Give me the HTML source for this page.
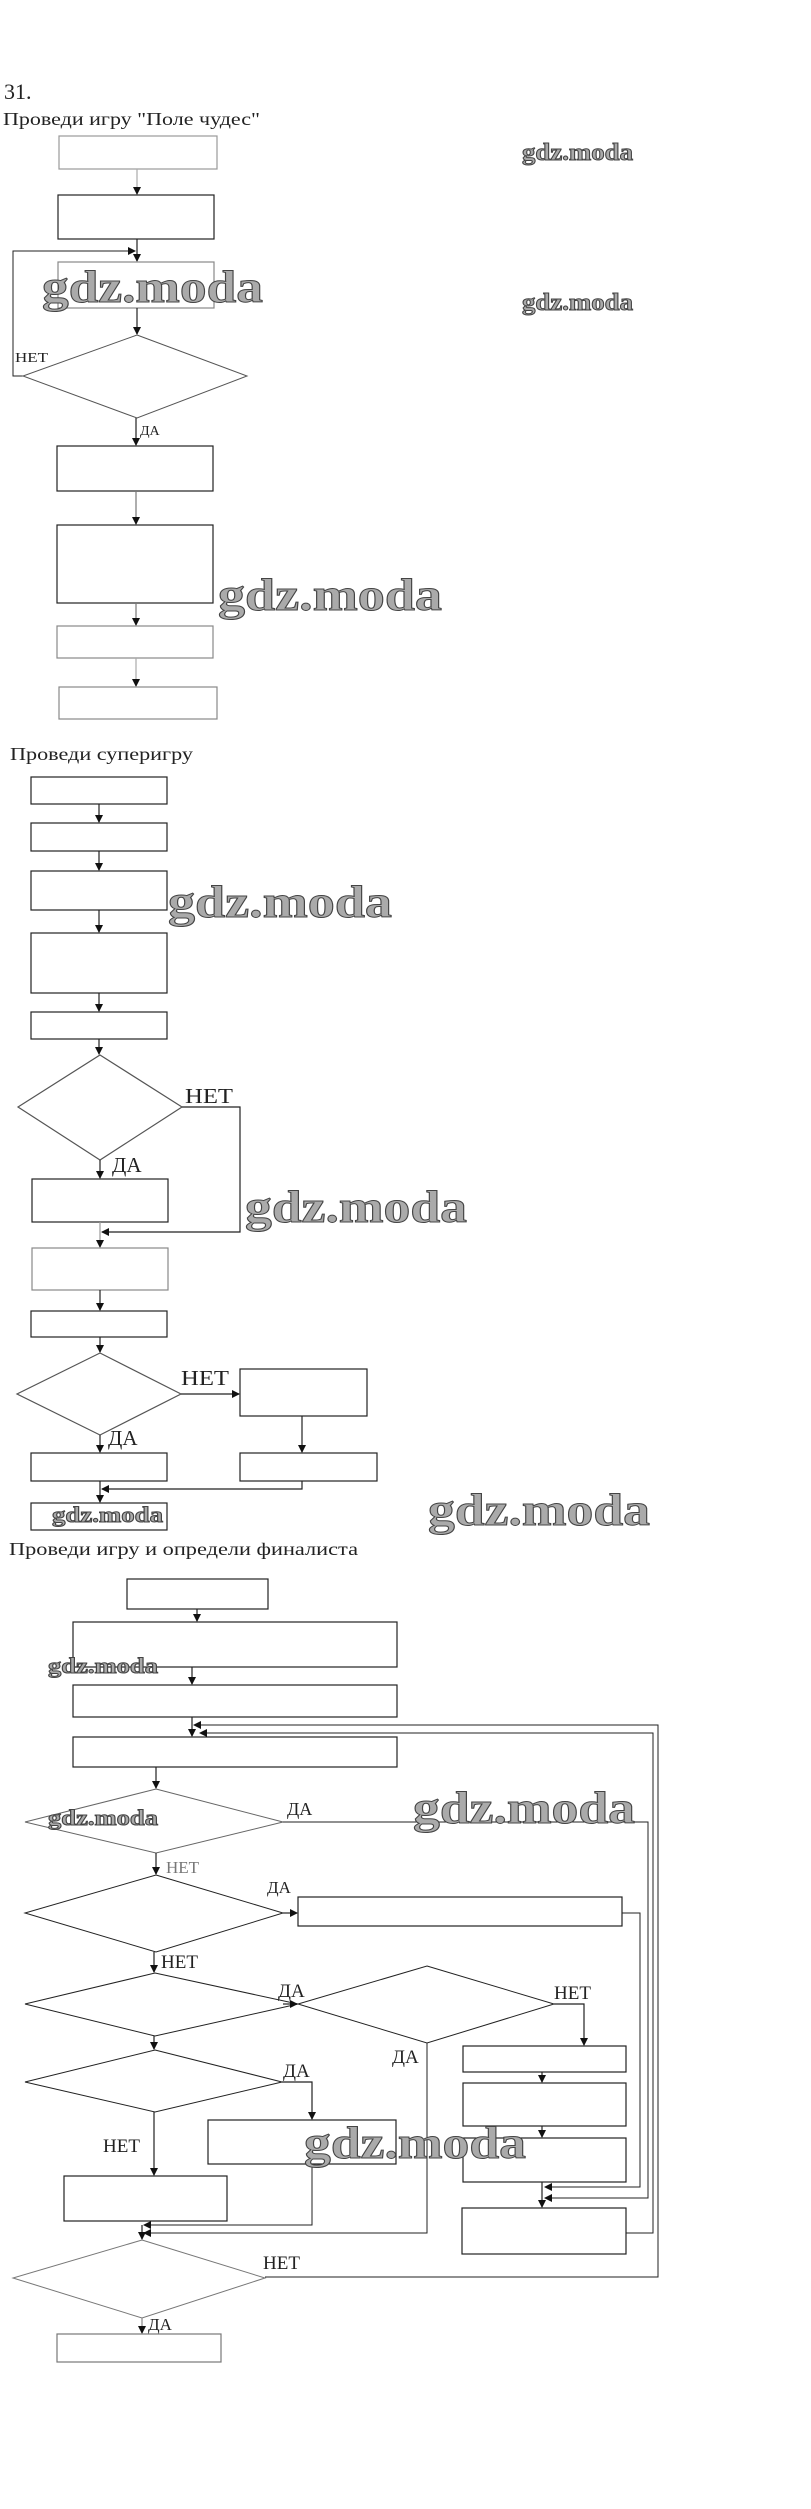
<!DOCTYPE html>
<html><head><meta charset="utf-8"><style>
html,body{margin:0;padding:0;background:#fff;width:811px;height:2509px;overflow:hidden}
svg{display:block}
.t{font-family:"Liberation Serif",serif;fill:#222}
.w{font-family:"Liberation Serif",serif;font-weight:bold;fill:#aaa;stroke:#444;stroke-width:1}
</style></head><body>
<svg width="811" height="2509" viewBox="0 0 811 2509" xmlns="http://www.w3.org/2000/svg">
<defs><marker id="a" markerWidth="8" markerHeight="8" refX="7" refY="4" orient="auto" markerUnits="userSpaceOnUse"><path d="M0,0 L8,4 L0,8 z" fill="#111"/></marker></defs>
<g fill="none" stroke="#222" stroke-width="1.2">
<!-- Section 1 -->
<rect x="59" y="136" width="158" height="33" stroke="#999"/>
<line x1="137" y1="169" x2="137" y2="194" marker-end="url(#a)" stroke="#aaa"/>
<rect x="58" y="195" width="156" height="44"/>
<line x1="137" y1="239" x2="137" y2="261" marker-end="url(#a)"/>
<polyline points="23,376 13,376 13,251 135,251" marker-end="url(#a)" stroke-width="1"/>
<rect x="58" y="262" width="156" height="46" stroke="#888"/>
<line x1="137" y1="308" x2="137" y2="334" marker-end="url(#a)"/>
<polygon points="137,335 247,376 137,418 23,376" stroke="#555" stroke-width="1"/>
<line x1="136" y1="418" x2="136" y2="445" marker-end="url(#a)"/>
<rect x="57" y="446" width="156" height="45"/>
<line x1="136" y1="491" x2="136" y2="524" marker-end="url(#a)" stroke="#777"/>
<rect x="57" y="525" width="156" height="78"/>
<line x1="136" y1="603" x2="136" y2="625" marker-end="url(#a)" stroke="#777"/>
<rect x="57" y="626" width="156" height="32" stroke="#888"/>
<line x1="136" y1="658" x2="136" y2="686" marker-end="url(#a)" stroke="#aaa"/>
<rect x="59" y="687" width="158" height="32" stroke="#888"/>
<!-- Section 2 -->
<rect x="31" y="777" width="136" height="27"/>
<line x1="99" y1="804" x2="99" y2="822" marker-end="url(#a)"/>
<rect x="31" y="823" width="136" height="28"/>
<line x1="99" y1="851" x2="99" y2="870" marker-end="url(#a)"/>
<rect x="31" y="871" width="136" height="39"/>
<line x1="99" y1="910" x2="99" y2="932" marker-end="url(#a)"/>
<rect x="31" y="933" width="136" height="60"/>
<line x1="99" y1="993" x2="99" y2="1011" marker-end="url(#a)"/>
<rect x="31" y="1012" width="136" height="27"/>
<line x1="99" y1="1039" x2="99" y2="1054" marker-end="url(#a)"/>
<polygon points="100,1055 182,1107 100,1160 18,1107" stroke="#555"/>
<polyline points="182,1107 240,1107 240,1232 102,1232" marker-end="url(#a)"/>
<line x1="100" y1="1160" x2="100" y2="1178" marker-end="url(#a)"/>
<rect x="32" y="1179" width="136" height="43"/>
<line x1="100" y1="1222" x2="100" y2="1247" marker-end="url(#a)" stroke="#999"/>
<rect x="32" y="1248" width="136" height="42" stroke="#888"/>
<line x1="100" y1="1290" x2="100" y2="1310" marker-end="url(#a)"/>
<rect x="31" y="1311" width="136" height="26"/>
<line x1="100" y1="1337" x2="100" y2="1352" marker-end="url(#a)"/>
<polygon points="100,1353 181,1394 100,1435 17,1394" stroke="#555"/>
<line x1="181" y1="1394" x2="239" y2="1394" marker-end="url(#a)"/>
<rect x="240" y="1369" width="127" height="47"/>
<line x1="302" y1="1416" x2="302" y2="1452" marker-end="url(#a)"/>
<rect x="240" y="1453" width="137" height="28"/>
<line x1="100" y1="1435" x2="100" y2="1452" marker-end="url(#a)"/>
<rect x="31" y="1453" width="136" height="28"/>
<polyline points="302,1481 302,1489 102,1489" marker-end="url(#a)"/>
<line x1="100" y1="1481" x2="100" y2="1502" marker-end="url(#a)"/>
<rect x="31" y="1503" width="136" height="27"/>
<!-- Section 3 -->
<rect x="127" y="1579" width="141" height="30"/>
<line x1="197" y1="1609" x2="197" y2="1621" marker-end="url(#a)"/>
<rect x="73" y="1622" width="324" height="45"/>
<line x1="192" y1="1667" x2="192" y2="1684" marker-end="url(#a)"/>
<rect x="73" y="1685" width="324" height="32"/>
<line x1="192" y1="1717" x2="192" y2="1736" marker-end="url(#a)"/>
<rect x="73" y="1737" width="324" height="30"/>
<polyline points="265,2277 658,2277 658,1725 194,1725" marker-end="url(#a)" stroke-width="1"/>
<polyline points="626,2233 653,2233 653,1733 200,1733" marker-end="url(#a)" stroke-width="1"/>
<line x1="156" y1="1767" x2="156" y2="1788" marker-end="url(#a)"/>
<polygon points="156,1789 283,1822 156,1853 25,1822" stroke="#666" stroke-width="1"/>
<polyline points="283,1822 648,1822 648,2198 545,2198" marker-end="url(#a)" stroke-width="1"/>
<line x1="156" y1="1853" x2="156" y2="1874" marker-end="url(#a)"/>
<polygon points="156,1875 283,1913 156,1952 25,1913" stroke-width="1"/>
<line x1="283" y1="1913" x2="297" y2="1913" marker-end="url(#a)"/>
<rect x="298" y="1897" width="324" height="29"/>
<polyline points="622,1913 640,1913 640,2187 545,2187" marker-end="url(#a)" stroke-width="1"/>
<line x1="154" y1="1952" x2="154" y2="1972" marker-end="url(#a)"/>
<polygon points="155,1973 298,2004 155,2036 25,2004" stroke-width="1"/>
<line x1="283" y1="2004" x2="297" y2="2004" marker-end="url(#a)"/>
<polygon points="427,1966 554,2004 427,2043 298,2004" stroke-width="1"/>
<polyline points="554,2004 584,2004 584,2045" marker-end="url(#a)"/>
<polyline points="427,2043 427,2233 144,2233" marker-end="url(#a)" stroke-width="1"/>
<rect x="463" y="2046" width="163" height="26"/>
<line x1="542" y1="2072" x2="542" y2="2082" marker-end="url(#a)"/>
<rect x="463" y="2083" width="163" height="43"/>
<line x1="542" y1="2126" x2="542" y2="2137" marker-end="url(#a)"/>
<rect x="463" y="2138" width="163" height="44"/>
<line x1="542" y1="2182" x2="542" y2="2207" marker-end="url(#a)"/>
<rect x="462" y="2208" width="164" height="46"/>
<line x1="154" y1="2036" x2="154" y2="2049" marker-end="url(#a)"/>
<polygon points="155,2050 282,2082 155,2112 25,2082" stroke-width="1"/>
<polyline points="282,2082 312,2082 312,2119" marker-end="url(#a)"/>
<rect x="208" y="2120" width="188" height="44"/>
<polyline points="312,2164 312,2225 144,2225" marker-end="url(#a)" stroke-width="1"/>
<line x1="154" y1="2112" x2="154" y2="2175" marker-end="url(#a)"/>
<rect x="64" y="2176" width="163" height="45"/>
<line x1="142" y1="2225" x2="142" y2="2239" marker-end="url(#a)"/>
<polygon points="142,2240 265,2278 142,2318 13,2278" stroke="#777" stroke-width="1"/>
<line x1="142" y1="2318" x2="142" y2="2333" marker-end="url(#a)" stroke="#888"/>
<rect x="57" y="2334" width="164" height="28" stroke="#777"/>
</g>
<g class="t">
<text x="4" y="99" font-size="22">31.</text>
<text x="3" y="125" font-size="18" textLength="257" lengthAdjust="spacingAndGlyphs">Проведи игру "Поле чудес"</text>
<text x="15" y="362" font-size="14" textLength="33" lengthAdjust="spacingAndGlyphs">НЕТ</text>
<text x="140" y="435" font-size="14">ДА</text>
<text x="10" y="760" font-size="18" textLength="183" lengthAdjust="spacingAndGlyphs">Проведи суперигру</text>
<text x="185" y="1103" font-size="21" textLength="48" lengthAdjust="spacingAndGlyphs">НЕТ</text>
<text x="112" y="1172" font-size="21">ДА</text>
<text x="181" y="1385" font-size="21" textLength="48" lengthAdjust="spacingAndGlyphs">НЕТ</text>
<text x="108" y="1445" font-size="21">ДА</text>
<text x="9" y="1555" font-size="18" textLength="349" lengthAdjust="spacingAndGlyphs">Проведи игру и определи финалиста</text>
<text x="287" y="1815" font-size="18">ДА</text>
<text x="166" y="1873" font-size="17" fill="#777">НЕТ</text>
<text x="267" y="1893" font-size="17">ДА</text>
<text x="161" y="1968" font-size="19">НЕТ</text>
<text x="278" y="1997" font-size="19">ДА</text>
<text x="554" y="1999" font-size="19">НЕТ</text>
<text x="392" y="2063" font-size="19">ДА</text>
<text x="283" y="2077" font-size="19">ДА</text>
<text x="103" y="2152" font-size="19">НЕТ</text>
<text x="263" y="2269" font-size="19">НЕТ</text>
<text x="148" y="2330" font-size="17">ДА</text>
</g>
<g class="w">
<text x="522" y="160" font-size="24" textLength="111" lengthAdjust="spacingAndGlyphs">gdz.moda</text>
<text x="522" y="310" font-size="24" textLength="111" lengthAdjust="spacingAndGlyphs">gdz.moda</text>
<text x="42" y="302" font-size="46" textLength="221" lengthAdjust="spacingAndGlyphs">gdz.moda</text>
<text x="218" y="610" font-size="46" textLength="224" lengthAdjust="spacingAndGlyphs">gdz.moda</text>
<text x="168" y="917" font-size="46" textLength="224" lengthAdjust="spacingAndGlyphs">gdz.moda</text>
<text x="245" y="1222" font-size="46" textLength="222" lengthAdjust="spacingAndGlyphs">gdz.moda</text>
<text x="52" y="1522" font-size="22" textLength="111" lengthAdjust="spacingAndGlyphs">gdz.moda</text>
<text x="428" y="1525" font-size="46" textLength="222" lengthAdjust="spacingAndGlyphs">gdz.moda</text>
<text x="48" y="1673" font-size="22" textLength="110" lengthAdjust="spacingAndGlyphs">gdz.moda</text>
<text x="48" y="1825" font-size="22" textLength="110" lengthAdjust="spacingAndGlyphs">gdz.moda</text>
<text x="413" y="1823" font-size="46" textLength="222" lengthAdjust="spacingAndGlyphs">gdz.moda</text>
<text x="304" y="2158" font-size="46" textLength="222" lengthAdjust="spacingAndGlyphs">gdz.moda</text>
</g>
</svg>
</body></html>
